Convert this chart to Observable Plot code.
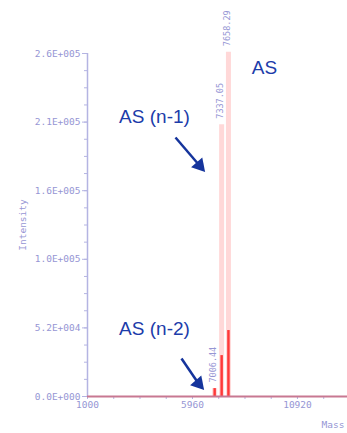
<!DOCTYPE html>
<html><head><meta charset="utf-8">
<script src="https://cdn.jsdelivr.net/npm/d3@7"></script>
<script src="https://cdn.jsdelivr.net/npm/@observablehq/plot@0.6"></script>
<style>body{margin:0;background:#fff;overflow:hidden;}</style>
</head><body><div id="chart"></div>
<script>
// Peaks (mass in Da, intensity in counts)
const peakMass = [7006.44, 7337.05, 7658.29];
const peakHeight = [6000, 206000, 261000];   // pale trace
const redHeight = [6000, 31000, 50000];      // red trace
const peakLabelHeight = [6000, 206000, 261000];

// Axis ticks
const yTicks = [0, 52000, 104000, 156000, 208000, 260000];
const yTickLabels = ["0.0E+000", "5.2E+004", "1.0E+005", "1.6E+005", "2.1E+005", "2.6E+005"];
const xTicks = [1000, 5960, 10920];
const xTickLabels = ["1000", "5960", "10920"];

// Annotations
const annLabels = ["AS", "AS (n-1)", "AS (n-2)"];
const annMass = [9362, 4165, 4165];
const annIntensity = [249400, 212200, 51500];
const arrowFromMass = [5157, 5440];
const arrowFromInt = [196300, 28800];
const arrowToMass = [6291, 6244];
const arrowToInt = [175100, 9850];

const axisColor = "#b4b4e2";
const labelColor = "#9696d4";
const mono = "DejaVu Sans Mono, monospace";

const peaks = peakMass.map((m, i) => ({mass: m, pale: peakHeight[i], red: redHeight[i], lab: peakLabelHeight[i], text: m.toFixed(2)}));
const ann = annLabels.map((t, i) => ({t, x: annMass[i], y: annIntensity[i]}));
const arrows = arrowFromMass.map((m, i) => ({x1: m, y1: arrowFromInt[i], x2: arrowToMass[i], y2: arrowToInt[i]}));
const yMap = new Map(yTicks.map((v, i) => [v, yTickLabels[i]]));
const xMap = new Map(xTicks.map((v, i) => [v, xTickLabels[i]]));
const yMinor = d3.range(0, 260001, 13000);
const xMinor = d3.range(1000, 13300, 1240);

const chart = Plot.plot({
  width: 347, height: 433,
  marginLeft: 87, marginRight: 0, marginTop: 53, marginBottom: 37,
  x: {domain: [1000, 13283]},
  y: {domain: [0, 260000]},
  style: {fontFamily: mono, background: "#fff"},
  marks: [
    Plot.ruleX([1000], {y1: 0, y2: 260000, stroke: axisColor, strokeWidth: 1.5}),
    Plot.axisY(yMinor, {tickSize: 3, tickFormat: () => "", stroke: axisColor, label: null}),
    Plot.axisY(yTicks, {tickSize: 5, tickPadding: 2, tickFormat: d => yMap.get(d), stroke: axisColor, fill: labelColor, fontSize: 9.5,
      label: "Intensity", labelAnchor: "center", labelArrow: "none", labelOffset: 68}),
    Plot.axisX(xMinor, {tickSize: 3, tickFormat: () => "", stroke: axisColor, label: null}),
    Plot.axisX(xTicks, {tickSize: 3, tickPadding: 2, tickFormat: d => xMap.get(d), stroke: axisColor, fill: labelColor, fontSize: 9.5,
      label: "Mass", labelAnchor: "right", labelArrow: "none", labelOffset: 31}),
    Plot.ruleX(peaks, {x: "mass", y1: 0, y2: "pale", stroke: "#ffd8d8", strokeWidth: 5}),
    Plot.ruleX(peaks, {x: "mass", y1: 0, y2: "red", stroke: "#ff3838", strokeWidth: 2.5}),
    Plot.ruleY([0], {stroke: "#c87892", strokeWidth: 2}),
    Plot.text(peaks, {x: "mass", y: "lab", text: "text", rotate: -90, textAnchor: "start", dx: -1, dy: -6,
      fill: labelColor, fontSize: 8.5, fontFamily: mono}),
    Plot.text(ann, {x: "x", y: "y", text: "t", fill: "#1c3caa", fontSize: 19, fontFamily: "Liberation Sans, Arial, sans-serif"}),
    Plot.link(arrows, {x1: "x1", y1: "y1", x2: "x2", y2: "y2", stroke: "#15349c", strokeWidth: 2.5}),
    Plot.dot(arrows, {x: "x2", y: "y2", symbol: "triangle", r: 5.5, rotate: 139, fill: "#15349c", stroke: null})
  ]
});
document.getElementById("chart").appendChild(chart);
</script>
</body></html>
